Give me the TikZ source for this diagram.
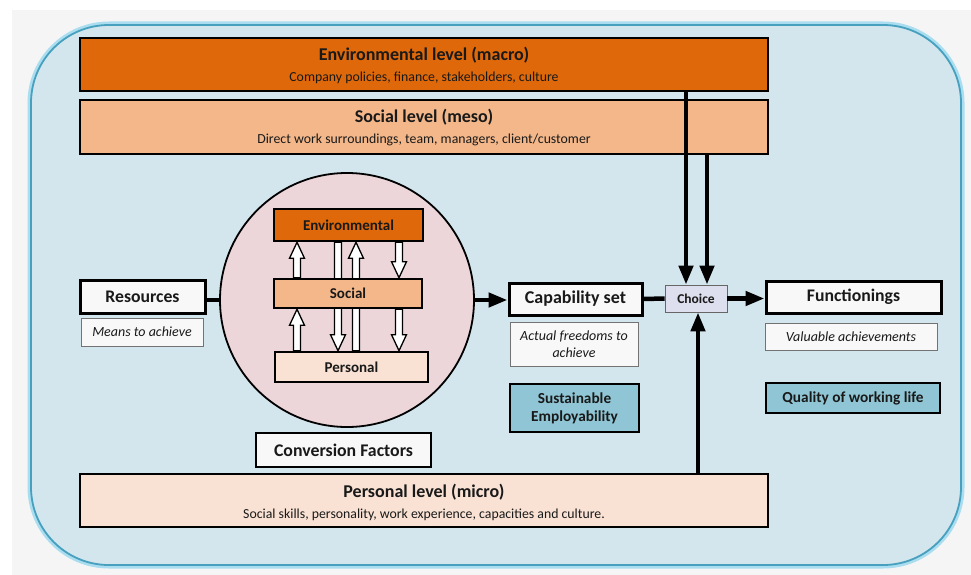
\documentclass[tikz,border=0pt]{standalone}
\usepackage{fontspec}
\setmainfont{Carlito}
\usetikzlibrary{arrows.meta,calc}
\definecolor{envC}{RGB}{222,104,10}
\definecolor{socC}{RGB}{243,183,138}
\definecolor{perC}{RGB}{249,226,212}
\definecolor{circC}{RGB}{236,214,218}
\definecolor{outerC}{RGB}{211,230,238}
\definecolor{outerB}{RGB}{70,160,190}
\definecolor{glowC}{RGB}{150,215,238}
\definecolor{tealC}{RGB}{143,197,212}
\definecolor{choiceC}{RGB}{221,222,238}
\definecolor{whiteC}{RGB}{248,248,248}
\definecolor{txtC}{RGB}{25,25,25}
\newcommand{\fs}[1]{\fontsize{#1}{#1}\selectfont}
\newcommand{\harrow}[2]{%
\draw[hollowar] let \p1=(#1), \p2=(#2), \p3=($(#2)!16pt!(#1)$) in
 (\x1-3.5pt,\y1) -- (\x1-3.5pt,\y3) -- (\x1-7.5pt,\y3) -- (\x2,\y2) --
 (\x1+7.5pt,\y3) -- (\x1+3.5pt,\y3) -- (\x1+3.5pt,\y1) -- cycle;}
\tikzset{
  lvlbox/.style={draw=black, line width=2.6pt, rectangle, inner sep=0pt, minimum width=688pt},
  innerbox/.style={draw=black, line width=2.6pt, rectangle, inner sep=0pt, text=txtC, font=\bfseries\fs{15}},
  mainbox/.style={draw=black, line width=3pt, rectangle, inner sep=0pt, fill=whiteC, text=txtC, font=\bfseries\fs{17.7}},
  thinbox/.style={draw=black!55, line width=0.8pt, rectangle, inner sep=0pt, fill=whiteC, text=txtC, font=\itshape\fs{14}, align=center},
  tealbox/.style={draw=black, line width=2.4pt, rectangle, inner sep=0pt, fill=tealC, text=txtC, font=\bfseries\fs{15.3}, align=center},
  lvltitle/.style={text=txtC, font=\bfseries\fs{18}, inner sep=0pt},
  lvlsub/.style={text=txtC, font=\fs{13.8}, inner sep=0pt},
  thickar/.style={line width=4.5pt, -{Triangle[length=19pt,width=14pt]}},
  thickline/.style={line width=4.5pt},
  hollowar/.style={draw=black, line width=1.3pt, fill=white, line join=miter},
}
\begin{document}
\begin{tikzpicture}[x=1pt,y=-1pt]
\useasboundingbox (0,0) rectangle (971,575);
\fill[white] (0,0) rectangle (971,575);
\fill[black!4] (12,10) rectangle (971,575);
% outer rounded panel
\draw[glowC, line width=7pt, opacity=0.8, rounded corners=78pt] (31,25) rectangle (961,565);
\fill[outerC, rounded corners=78pt] (31,25) rectangle (961,565);
\draw[outerB, line width=1.8pt, rounded corners=78pt] (31,25) rectangle (961,565);
% level boxes
\node[lvlbox, fill=envC, minimum height=53pt] (env) at (424,64.5) {};
\node[lvltitle] (envT) at (424,55) {Environmental level (macro)};
\node[lvlsub] (envS) at (424,77.5) {Company policies, finance, stakeholders, culture};
\node[lvlbox, fill=socC, minimum height=54pt] (soc) at (424,127) {};
\node[lvltitle] (socT) at (424,117) {Social level (meso)};
\node[lvlsub] (socS) at (424,139.5) {Direct work surroundings, team, managers, client/customer};
\node[lvlbox, fill=perC, minimum height=53pt] (per) at (424,500.5) {};
\node[lvltitle] (perT) at (424,492) {Personal level (micro)};
\node[lvlsub] (perS) at (424,514.5) {Social skills, personality, work experience, capacities and culture.};
% circle
\node[circle, draw=black, line width=1.8pt, fill=circC, minimum size=254pt, inner sep=0pt] (circ) at (347,300) {};
% inner boxes
\coordinate (ha) at (297,0);
\coordinate (hb) at (338,0);
\coordinate (hc) at (356,0);
\coordinate (hd) at (399,0);
\node[innerbox, fill=envC, minimum width=149pt, minimum height=32pt] (envi) at (348.5,225) {Environmental};
\node[innerbox, fill=socC, minimum width=148pt, minimum height=29pt] (soci) at (348,293.5) {Social};
\node[innerbox, fill=perC, minimum width=153pt, minimum height=30pt] (persi) at (351.5,367) {Personal};
% hollow arrows (drawn, then boxes redrawn on top)
\harrow{ha |- soci.north}{ha |- envi.south}
\harrow{ha |- persi.north}{ha |- soci.south}
\harrow{hb |- envi.south}{hb |- persi.north}
\harrow{hc |- persi.north}{hc |- envi.south}
\harrow{hd |- envi.south}{hd |- soci.north}
\harrow{hd |- soci.south}{hd |- persi.north}
\node[innerbox, fill=envC, minimum width=149pt, minimum height=32pt] at (envi) {Environmental};
\node[innerbox, fill=socC, minimum width=148pt, minimum height=29pt] at (soci) {Social};
\node[innerbox, fill=perC, minimum width=153pt, minimum height=30pt] at (persi) {Personal};
% main boxes
\node[mainbox, minimum width=125pt, minimum height=33pt] (res) at (142.5,296.5) {Resources};
\node[thinbox, minimum width=122pt, minimum height=28pt] (means) at (142,332) {Means to achieve};
\node[mainbox, font=\bfseries\fs{18}, minimum width=133pt, minimum height=32pt] (cap) at (575.5,299) {Capability set};
\node[draw=black!60, line width=0.8pt, fill=choiceC, text=txtC, font=\bfseries\fs{13.5}, inner sep=0pt, minimum width=62pt, minimum height=27pt] (choice) at (696,298.5) {Choice};
\node[mainbox, minimum width=175pt, minimum height=32pt] (func) at (853.5,297) {Functionings};
\node[thinbox, minimum width=128pt, minimum height=44pt, font=\itshape\fs{14}] (actual) at (574,344) {Actual freedoms to\\[3pt]achieve};
\node[thinbox, minimum width=172pt, minimum height=27pt] (valu) at (851,336.5) {Valuable achievements};
\node[tealbox, minimum width=129pt, minimum height=48pt] (sust) at (574.5,408) {Sustainable\\[3pt]Employability};
\node[tealbox, minimum width=174pt, minimum height=30pt] (qual) at (853,398) {Quality of working life};
\node[mainbox, line width=2.8pt, font=\bfseries\fs{17.8}, minimum width=175pt, minimum height=34pt] (conv) at (343.5,450) {Conversion Factors};
% connectors
\draw[thickline] (circ.west -| res.east) -- (circ.west);
\draw[thickar] (circ.east) -- (circ.east -| cap.west);
\draw[thickline] (cap.east) -- (choice.west);
\draw[thickar] (choice.east) -- (choice.east -| func.west);
\coordinate (va) at (686,0);
\coordinate (vb) at (707,0);
\coordinate (vc) at (698,0);
\draw[thickar] (va |- env.south) -- (va |- choice.north);
\draw[thickar] (vb |- soc.south) -- (vb |- choice.north);
\draw[thickar] (vc |- per.north) -- (vc |- choice.south);
\end{tikzpicture}
\end{document}
